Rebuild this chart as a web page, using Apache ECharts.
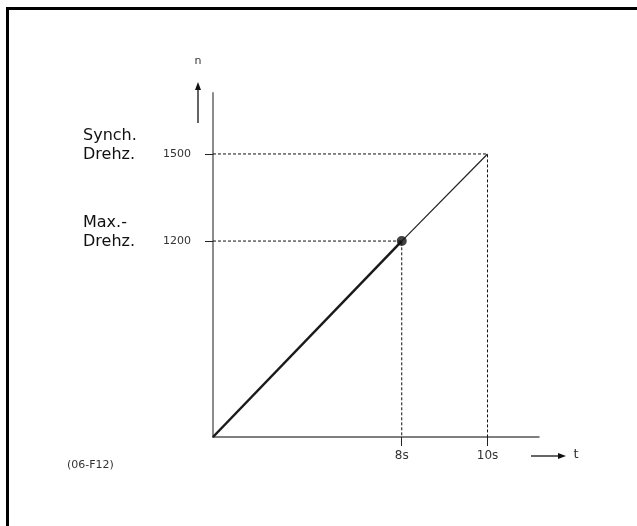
<!DOCTYPE html>
<html>
<head>
<meta charset="utf-8">
<script src="https://cdn.jsdelivr.net/npm/echarts@6/dist/echarts.min.js"></script>
<style>
  html, body { margin: 0; padding: 0; background: #fff; }
  #chart { width: 637px; height: 526px; }
</style>
</head>
<body>
<div id="chart"></div>
<script>
// ---- data ----
const timeTicks = [8, 10];                 // s
const speedTicks = [1200, 1500];           // rpm
const speedNames = ['Max.-\nDrehz.', 'Synch.\nDrehz.'];
const axisStart = [3.6, 525];              // values at the axis corner (truncated axes)
const axisEnd = [11.2, 1710];
const accelPath = [[3.6, 525], [8, 1200]];     // thick: ramp up to max speed
const continuationPath = [[8, 1200], [10, 1500]]; // thin: ramp to synchronous speed
const operatingPoint = [[8, 1200]];
const guideMax = [[3.6, 1200], [8, 1200], [8, 525]];
const guideSync = [[3.6, 1500], [10, 1500], [10, 525]];
const figureCode = '(06-F12)';

(function () {
const FONT = 'DejaVu Sans';
const chart = echarts.init(document.getElementById('chart'), null, { renderer: 'canvas' });

const dashed = { color: '#111', width: 1, type: [3, 2] };

chart.setOption({
  animation: false,
  backgroundColor: '#fff',
  grid: { left: 213, right: 98, top: 93, bottom: 89, containLabel: false },
  xAxis: {
    type: 'value', min: axisStart[0], max: axisEnd[0],
    axisLine: { show: true, onZero: false, lineStyle: { color: '#555', width: 1.5 } },
    axisTick: { show: true, customValues: timeTicks, length: 9, lineStyle: { color: '#222', width: 1 } },
    axisLabel: { show: true, customValues: timeTicks, formatter: v => v + 's', margin: 13,
      color: '#333', fontFamily: FONT, fontSize: 12 },
    splitLine: { show: false }
  },
  yAxis: {
    type: 'value', min: axisStart[1], max: axisEnd[1],
    axisLine: { show: true, onZero: false, lineStyle: { color: '#8c8c8c', width: 2 } },
    axisTick: { show: true, customValues: speedTicks, length: 8, lineStyle: { color: '#222', width: 1 } },
    axisLabel: { show: true, customValues: speedTicks, formatter: v => String(v), margin: 22,
      color: '#333', fontFamily: FONT, fontSize: 11 },
    splitLine: { show: false }
  },
  series: [
    { type: 'line', data: guideSync, symbol: 'none', lineStyle: dashed, z: 1, silent: true },
    { type: 'line', data: guideMax, symbol: 'none', lineStyle: dashed, z: 1, silent: true },
    { type: 'line', data: continuationPath, symbol: 'none', lineStyle: { color: '#222', width: 1.2 }, z: 2 },
    { type: 'line', data: accelPath, symbol: 'none', lineStyle: { color: '#1a1a1a', width: 2.5 }, z: 3 },
    { type: 'scatter', data: operatingPoint, symbol: 'circle', symbolSize: 10,
      itemStyle: { color: '#111' }, z: 4 }
  ]
});

const yPix = speedTicks.map(v => chart.convertToPixel({ gridIndex: 0 }, [axisStart[0], v])[1]);

const graphics = [
  { type: 'rect', shape: { x: 7.5, y: 8.5, width: 800, height: 700 },
    style: { fill: null, stroke: '#000', lineWidth: 3 }, silent: true },
  { type: 'line', shape: { x1: 198, y1: 123, x2: 198, y2: 88 }, style: { stroke: '#111', lineWidth: 1.3 } },
  { type: 'polygon', shape: { points: [[198, 82], [195, 90], [201, 90]] }, style: { fill: '#111' } },
  { type: 'text', style: { x: 198, y: 61, text: 'n', font: '11px ' + FONT, fill: '#333', align: 'center', verticalAlign: 'middle' } },
  { type: 'line', shape: { x1: 531, y1: 456, x2: 560, y2: 456 }, style: { stroke: '#111', lineWidth: 1.3 } },
  { type: 'polygon', shape: { points: [[566, 456], [558, 453], [558, 459]] }, style: { fill: '#111' } },
  { type: 'text', style: { x: 576, y: 455, text: 't', font: '13px ' + FONT, fill: '#333', align: 'center', verticalAlign: 'middle' } },
  { type: 'text', style: { x: 67, y: 465, text: figureCode, font: '11px ' + FONT, fill: '#333', align: 'left', verticalAlign: 'middle' } }
];
speedNames.forEach((name, i) => {
  graphics.push({ type: 'text', style: {
    x: 83, y: yPix[i] - 9, text: name, font: '16px ' + FONT, lineHeight: 19,
    fill: '#111', align: 'left', verticalAlign: 'middle' } });
});
chart.setOption({ graphic: graphics });
})();
</script>
</body>
</html>
